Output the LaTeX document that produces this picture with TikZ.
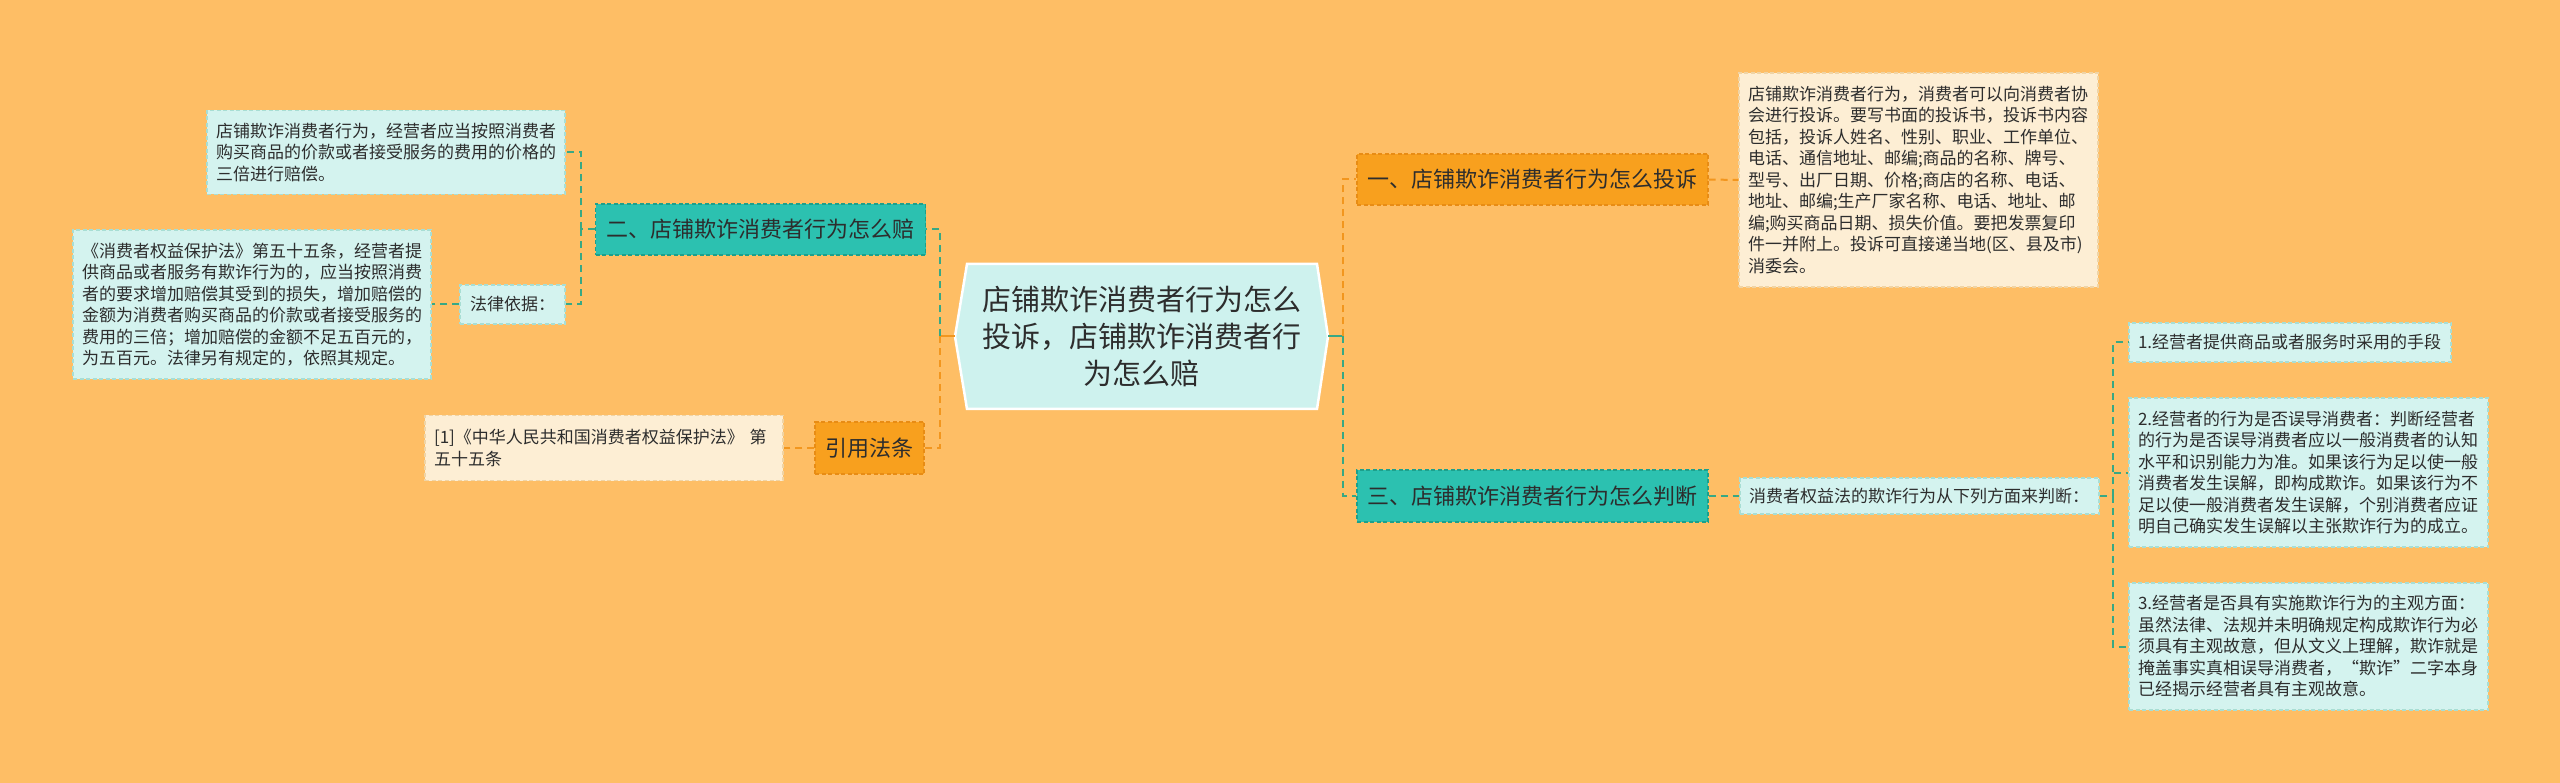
\documentclass[tikz,border=0pt]{standalone}
\usepackage{fontspec}
\setmainfont{Noto Sans CJK SC}
\definecolor{bgc}{RGB}{254,190,101}
\definecolor{tealf}{RGB}{44,193,176}
\definecolor{tealb}{RGB}{28,160,140}
\definecolor{orf}{RGB}{248,160,30}
\definecolor{orb}{RGB}{232,140,20}
\definecolor{lteal}{RGB}{56,168,132}
\definecolor{lor}{RGB}{242,150,30}
\definecolor{cyanf}{RGB}{212,243,239}
\definecolor{cyanb}{RGB}{168,222,212}
\definecolor{creamf}{RGB}{253,238,212}
\definecolor{creamb}{RGB}{240,212,165}
\definecolor{cenf}{RGB}{206,242,238}
\definecolor{txt}{RGB}{45,45,45}
\tikzset{
  leafbox/.style={line width=1.3pt, dash pattern=on 4pt off 2.5pt, text=txt, align=left,
    inner xsep=9pt, inner ysep=0pt, font=\fontsize{17}{21.5}\selectfont},
  leafcyan/.style={leafbox, draw=cyanb, fill=cyanf},
  leafcream/.style={leafbox, draw=creamb, fill=creamf},
  branchbox/.style={line width=1.3pt, dash pattern=on 4pt off 2.5pt, text=txt, align=center,
    inner sep=0pt, minimum height=51pt, font=\fontsize{22}{26}\selectfont},
  tealbox/.style={branchbox, draw=tealb, fill=tealf},
  orbox/.style={branchbox, draw=orb, fill=orf},
  cteal/.style={draw=lteal, line width=2pt, dash pattern=on 7pt off 5pt},
  cor/.style={draw=lor, line width=2pt, dash pattern=on 7pt off 5pt},
  ctealsolid/.style={draw=lteal, line width=2pt},
  corsolid/.style={draw=lor, line width=2pt}
}
\begin{document}
\begin{tikzpicture}[x=1pt,y=-1pt]
\fill[bgc] (0,0) rectangle (2560,783);
\useasboundingbox (0,0) rectangle (2560,783);

% central
\path[fill=cenf, draw=white, line width=2.5pt] (955,336.5) -- (967,264) -- (1317,264) -- (1328,336.5) -- (1317,409) -- (967,409) -- cycle;
\node[inner sep=0pt, minimum width=373pt, minimum height=145pt, align=center, text=txt,
  font=\fontsize{29}{37}\selectfont] (c) at (1141.5,336.5)
  {店铺欺诈消费者行为怎么\\投诉，店铺欺诈消费者行\\为怎么赔};

% left side
\node[tealbox, minimum width=330pt] (n2) at (760.5,229.5) {二、店铺欺诈消费者行为怎么赔};
\node[orbox, minimum width=109pt, minimum height=52pt] (ref) at (869.5,448) {引用法条};
\node[leafcyan, text width=340pt, minimum height=84pt] (l1) at (386,152.5)
  {店铺欺诈消费者行为，经营者应当按照消费者\\购买商品的价款或者接受服务的费用的价格的\\三倍进行赔偿。};
\node[leafcyan, align=center, inner xsep=0pt, minimum width=105pt, minimum height=39pt] (lb) at (512.5,304.5) {法律依据：};
\node[leafcyan, text width=340pt, minimum height=149pt] (l2) at (252,304.5)
  {《消费者权益保护法》第五十五条，经营者提\\供商品或者服务有欺诈行为的，应当按照消费\\者的要求增加赔偿其受到的损失，增加赔偿的\\金额为消费者购买商品的价款或者接受服务的\\费用的三倍；增加赔偿的金额不足五百元的，\\为五百元。法律另有规定的，依照其规定。};
\node[leafcream, text width=340pt, minimum height=65pt] (rb) at (604,448)
  {[1]《中华人民共和国消费者权益保护法》 第\\五十五条};

% right side
\node[orbox, minimum width=351pt] (n1) at (1532.5,179.5) {一、店铺欺诈消费者行为怎么投诉};
\node[tealbox, minimum width=351pt, minimum height=52pt] (n3) at (1532.5,496) {三、店铺欺诈消费者行为怎么判断};
\node[leafcream, text width=341pt, minimum height=214pt] (b1) at (1918.5,180)
  {店铺欺诈消费者行为，消费者可以向消费者协\\会进行投诉。要写书面的投诉书，投诉书内容\\包括，投诉人姓名、性别、职业、工作单位、\\电话、通信地址、邮编;商品的名称、牌号、\\型号、出厂日期、价格;商店的名称、电话、\\地址、邮编;生产厂家名称、电话、地址、邮\\编;购买商品日期、损失价值。要把发票复印\\件一并附上。投诉可直接递当地(区、县及市)\\消委会。};
\node[leafcyan, text width=341pt, minimum height=36pt] (jd) at (1919.5,496)
  {消费者权益法的欺诈行为从下列方面来判断：};
\node[leafcyan, text width=304pt, minimum height=39pt] (r1) at (2290,342.5)
  {1.经营者提供商品或者服务时采用的手段};
\node[leafcyan, text width=341pt, minimum height=149pt] (r2) at (2308.5,472.5)
  {2.经营者的行为是否误导消费者：判断经营者\\的行为是否误导消费者应以一般消费者的认知\\水平和识别能力为准。如果该行为足以使一般\\消费者发生误解，即构成欺诈。如果该行为不\\足以使一般消费者发生误解，个别消费者应证\\明自己确实发生误解以主张欺诈行为的成立。};
\node[leafcyan, text width=341pt, minimum height=127pt] (r3) at (2308.5,646.5)
  {3.经营者是否具有实施欺诈行为的主观方面：\\虽然法律、法规并未明确规定构成欺诈行为必\\须具有主观故意，但从文义上理解，欺诈就是\\掩盖事实真相误导消费者，“欺诈”二字本身\\已经揭示经营者具有主观故意。};

% junction coordinates
\coordinate (lsp) at (940,336.5);
\coordinate (rsp) at (1343,336.5);
\coordinate (lj) at (581,229.5);
\coordinate (rj) at (2113,496);

% connectors
\draw[corsolid] (c.west) -- (lsp);
\draw[cteal] (lsp) |- (n2.east);
\draw[cor] (lsp) |- (ref.east);
\draw[ctealsolid] (c.east) -- (rsp);
\draw[cor] (rsp) |- (n1.west);
\draw[cteal] (rsp) |- (n3.west);
\draw[cteal] (n2.west) -- (lj);
\draw[cteal] (lj) |- (l1.east);
\draw[cteal] (lj) |- (lb.east);
\draw[cteal] (lb.west) -- (l2.east);
\draw[cor] (ref.west) -- (rb.east);
\draw[cor] (n1.east) -- (b1.west);
\draw[cteal] (n3.east) -- (jd.west);
\draw[cteal] (jd.east) -- (rj);
\draw[cteal] (rj) |- (r1.west);
\draw[cteal] (rj) |- (r2.west);
\draw[cteal] (rj) |- (r3.west);
\end{tikzpicture}
\end{document}
